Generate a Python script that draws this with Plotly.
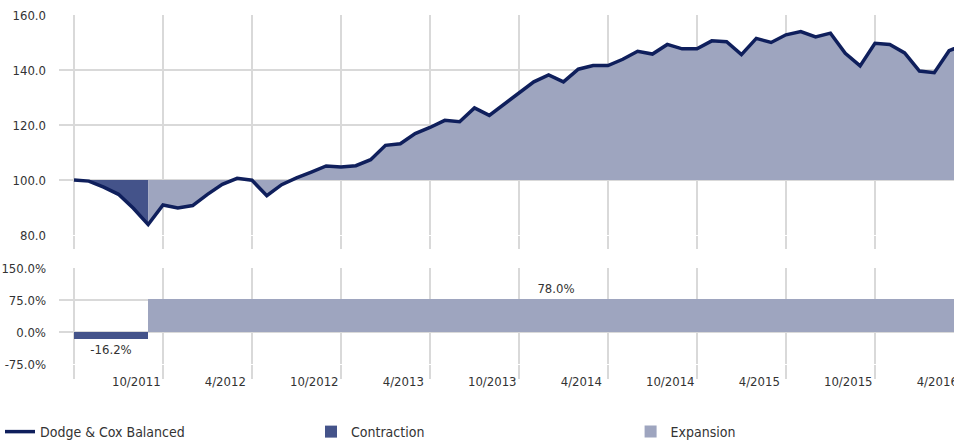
import plotly.graph_objects as go

# ---- data ----
months = [f"{(3 + i) % 12 + 1}/{2011 + (3 + i) // 12}" for i in range(61)]  # 4/2011 .. 4/2016
values = [
    100.0, 99.6, 97.4, 94.8, 89.7, 83.8, 90.9, 89.8, 90.7, 94.8,
    98.4, 100.6, 99.9, 94.3, 98.3, 100.8, 102.9, 105.1, 104.7, 105.2,
    107.4, 112.6, 113.2, 116.9, 119.1, 121.7, 121.2, 126.2, 123.5, 127.6,
    131.6, 135.7, 138.2, 135.7, 140.3, 141.6, 141.6, 143.9, 146.8, 145.8,
    149.3, 147.7, 147.7, 150.6, 150.3, 145.6, 151.5, 150.0, 152.8, 154.0,
    152.0, 153.4, 146.1, 141.5, 149.7, 149.3, 146.2, 139.6, 139.0, 147.0,
    149.2,
]
base_value = 100.0
series_name = "Dodge & Cox Balanced"
phase_names = ["Contraction", "Expansion"]
phase_start = [0, 5]
phase_end = [5, 60]
phase_return = [-16.2, 78.0]
top_ticks = [80, 100, 120, 140, 160]
bottom_ticks = [-75, 0, 75, 150]
tick_step = 6

# ---- style ----
FONT = "DejaVu Sans Condensed, Liberation Sans Narrow, Roboto, sans-serif"
TXT = "#333333"
GRID = "#d9d9d9"
LINE_C = "#0f1f5c"
phase_colors = ["#44538a", "#9ea5bf"]
label_offset = 1.8  # months, label sits left of its gridline
legend_x = [0.0, 0.326, 0.661]  # container fractions for the three legend entries

x_idx = list(range(len(values)))
grid_idx = x_idx[::tick_step]
label_idx = grid_idx[1:]
label_text = [months[i] for i in label_idx]

fig = go.Figure()

# filled areas relative to the base value
for name, s, e, col in zip(phase_names, phase_start, phase_end, phase_colors):
    xs = x_idx[s:e + 1]
    fig.add_trace(go.Scatter(x=xs, y=[base_value] * len(xs), mode="lines",
                             line=dict(width=0), showlegend=False, hoverinfo="skip",
                             xaxis="x", yaxis="y"))
    fig.add_trace(go.Scatter(x=xs, y=values[s:e + 1], mode="lines", fill="tonexty",
                             fillcolor=col, line=dict(width=0), showlegend=False,
                             hoverinfo="skip", xaxis="x", yaxis="y"))

fig.add_trace(go.Scatter(x=x_idx, y=values, mode="lines", name=series_name,
                         line=dict(color=LINE_C, width=3.5), xaxis="x", yaxis="y",
                         legend="legend"))

for k, (name, s, e, r, col) in enumerate(zip(phase_names, phase_start, phase_end,
                                              phase_return, phase_colors)):
    fig.add_trace(go.Bar(x=[(s + e) / 2], y=[r], width=[e - s], name=name,
                         marker=dict(color=col, line=dict(width=0)),
                         text=[f"{r:.1f}%"], textposition="outside",
                         textfont=dict(size=13, color=TXT, family=FONT),
                         cliponaxis=False, xaxis="x2", yaxis="y2",
                         legend=f"legend{k + 2}"))

xrange = [-1.011, 59.33]
common_y = dict(gridcolor=GRID, gridwidth=2, zeroline=False, showline=False, ticks="",
                tickfont=dict(size=13, color=TXT, family=FONT), ticklabelstandoff=12,
                automargin=False)

legend_common = dict(orientation="h", xref="container", yref="container",
                     xanchor="left", y=0.0248, yanchor="middle",
                     font=dict(size=14, color=TXT, family=FONT),
                     itemwidth=30, bgcolor="rgba(0,0,0,0)")

fig.update_layout(
    width=954, height=443,
    margin=dict(l=59, r=0, t=15, b=79, autoexpand=False),
    plot_bgcolor="white", paper_bgcolor="white",
    font=dict(family=FONT, color=TXT, size=13),
    bargap=0, barmode="overlay",
    showlegend=True,
    legend=dict(x=legend_x[0], **legend_common),
    legend2=dict(x=legend_x[1], **legend_common),
    legend3=dict(x=legend_x[2], **legend_common),
    xaxis=dict(range=xrange, anchor="y", tickmode="array", tickvals=grid_idx,
               showticklabels=False, showgrid=True, gridcolor=GRID, gridwidth=2,
               ticks="outside", ticklen=13, tickcolor=GRID, tickwidth=2,
               zeroline=False, showline=False, automargin=False),
    yaxis=dict(domain=[0.3696, 1], range=[top_ticks[0], top_ticks[-1]], tickmode="array",
               tickvals=top_ticks, ticktext=[f"{v:.1f}" for v in top_ticks], **common_y),
    xaxis2=dict(range=xrange, anchor="y2", tickmode="array",
                tickvals=[i - label_offset for i in label_idx],
                ticktext=label_text, showgrid=False, ticks="", zeroline=False, showline=False,
                tickfont=dict(size=13, color=TXT, family=FONT), ticklabelstandoff=8,
                ticklabeloverflow="allow", automargin=False,
                minor=dict(tickmode="array", tickvals=grid_idx, showgrid=True, gridcolor=GRID,
                           gridwidth=2, ticks="outside", ticklen=14, tickcolor=GRID, tickwidth=2)),
    yaxis2=dict(domain=[0, 0.2751], range=[bottom_ticks[0], bottom_ticks[-1]], tickmode="array",
                tickvals=bottom_ticks, ticktext=[f"{v:.1f}%" for v in bottom_ticks], **common_y),
)

fig.write_html(
    "out.html",
    config={"displayModeBar": False},
    post_script="document.body.style.margin='0';document.body.style.overflow='hidden';",
)
